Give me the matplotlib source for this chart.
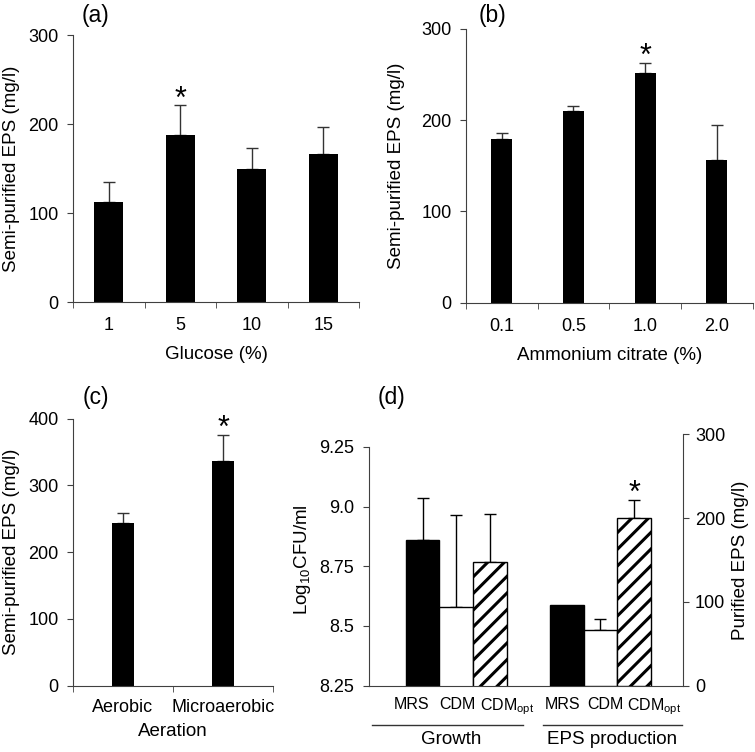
import numpy as np
import matplotlib
matplotlib.use('Agg')
import matplotlib.pyplot as plt
from matplotlib.transforms import blended_transform_factory

plt.rcParams['font.family'] = ['Liberation Sans', 'DejaVu Sans']
plt.rcParams['mathtext.fontset'] = 'custom'
plt.rcParams['mathtext.rm'] = 'Liberation Sans'
plt.rcParams['mathtext.it'] = 'Liberation Sans:italic'
plt.rcParams['hatch.linewidth'] = 2.2

# (a) glucose
glucose = ['1', '5', '10', '15']
glucose_eps = [112, 188, 150, 166]
glucose_sd = [23, 33, 23, 31]

# (b) ammonium citrate
citrate = ['0.1', '0.5', '1.0', '2.0']
citrate_eps = [179, 210, 252, 156]
citrate_sd = [7, 6, 11, 39]

# (c) aeration
aeration = ['Aerobic', 'Microaerobic']
aeration_eps = [244, 337]
aeration_sd = [15, 39]

# (d) media
media = ['MRS', 'CDM', 'CDM$_{\\mathregular{opt}}$']
growth_log = [8.86, 8.58, 8.77]
growth_sd = [0.175, 0.385, 0.20]
eps_purified = [96, 67, 200]
eps_sd = [0, 13, 22]

AX = '#404040'
TICK = 13
LAB = 13.5
STAR = 22
STAR_OFF = 4

fig = plt.figure(figsize=(7.55, 7.52), dpi=100)


def simple_panel(rect, cats, vals, sds, width, ymax, ystep, xlabel, star,
                 ylab_x, xlab_y, xpad):
    ax = fig.add_axes(rect)
    x = np.arange(len(cats))
    ax.bar(x, vals, width, color='black', zorder=2)
    ax.errorbar(x, vals, yerr=[np.zeros(len(vals)), sds], fmt='none',
                ecolor='#333333', elinewidth=1, capsize=4, capthick=1, zorder=1)
    top = vals[star] + sds[star]
    ax.annotate('*', (x[star], top), xytext=(0, STAR_OFF),
                textcoords='offset points', ha='center', va='center',
                fontsize=STAR)
    ax.set_xlim(-0.5, len(cats) - 0.5)
    ax.set_ylim(0, ymax)
    ax.set_yticks(np.arange(0, ymax + 1, ystep))
    ax.set_xticks(x)
    ax.set_xticklabels(cats)
    ax.set_xticks(np.arange(len(cats) + 1) - 0.5, minor=True)
    ax.tick_params(axis='x', which='major', length=0, pad=xpad, labelsize=TICK)
    ax.tick_params(axis='x', which='minor', length=4.5, color=AX, direction='out')
    ax.tick_params(axis='y', length=4.5, color=AX, pad=6, labelsize=TICK)
    for s in ['top', 'right']:
        ax.spines[s].set_visible(False)
    for s in ['left', 'bottom']:
        ax.spines[s].set_color(AX)
    ax.set_ylabel('Semi-purified EPS (mg/l)', fontsize=LAB)
    ax.yaxis.set_label_coords(ylab_x, 0.5)
    ax.set_xlabel(xlabel, fontsize=LAB)
    ax.xaxis.set_label_coords(0.5, xlab_y)
    return ax


simple_panel([0.0967, 0.5984, 0.3788, 0.355], glucose, glucose_eps, glucose_sd,
             0.4, 300, 100, 'Glucose (%)', 1, -0.185, -0.165, 11)
simple_panel([0.6172, 0.5975, 0.3797, 0.364], citrate, citrate_eps, citrate_sd,
             0.29, 300, 100, 'Ammonium citrate (%)', 2, -0.213, -0.162, 11)
simple_panel([0.0967, 0.0882, 0.2649, 0.355], aeration, aeration_eps, aeration_sd,
             0.22, 400, 100, 'Aeration', 1, -0.265, -0.138, 9.5)

# (d) growth (left axis) and purified EPS (right axis)
ax = fig.add_axes([0.4887, 0.0882, 0.4163, 0.3343])
ax2 = ax.twinx()
xg = np.arange(3)
xe = np.arange(3) + 4.28
styles = [dict(color='black', edgecolor='black'),
          dict(color='white', edgecolor='black'),
          dict(color='white', edgecolor='black', hatch='//')]
for i, st in enumerate(styles):
    ax.bar(xg[i], growth_log[i], 1.0, linewidth=1, zorder=2, **st)
    ax2.bar(xe[i], eps_purified[i], 1.0, linewidth=1, zorder=2, **st)
ax.errorbar(xg, growth_log, yerr=[np.zeros(3), growth_sd], fmt='none',
            ecolor='black', elinewidth=1, capsize=4, capthick=1, zorder=1)
ax2.errorbar(xe[1:], eps_purified[1:], yerr=[np.zeros(2), eps_sd[1:]],
             fmt='none', ecolor='black', elinewidth=1, capsize=4, capthick=1,
             zorder=1)
ax2.annotate('*', (xe[2], eps_purified[2] + eps_sd[2]), xytext=(0, STAR_OFF),
             textcoords='offset points', ha='center', va='center',
             fontsize=STAR)

ax.set_xlim(-1.59, 7.74)
ax.set_ylim(8.25, 9.303)
ax.set_yticks([8.25, 8.5, 8.75, 9.0, 9.25])
ax.set_yticklabels(['8.25', '8.5', '8.75', '9.0', '9.25'])
ax.spines['left'].set_bounds(8.25, 9.25)
ax2.set_ylim(0, 300)
ax2.set_yticks([0, 100, 200, 300])
# labels spread a little wider than the bars, as in the original layout
spread_g = np.array([-0.34, 0.03, 0.52])
spread_e = np.array([-0.12, 0.14, 0.59])
ax.set_xticks(np.concatenate([xg + spread_g, xe + spread_e]))
ax.set_xticklabels(media * 2)
ax.tick_params(axis='x', length=0, pad=8, labelsize=11.5)
ax.tick_params(axis='y', length=4.5, color=AX, pad=6, labelsize=TICK)
ax2.tick_params(axis='y', length=4.5, color=AX, pad=4, labelsize=TICK)
for a in (ax, ax2):
    a.spines['top'].set_visible(False)
ax.spines['right'].set_visible(False)
ax2.spines['left'].set_visible(False)
ax2.spines['bottom'].set_visible(False)
for s in ['left', 'bottom']:
    ax.spines[s].set_color(AX)
ax2.spines['right'].set_color(AX)
ax.set_ylabel('Log$_{\\mathregular{10}}$CFU/ml', fontsize=LAB)
ax.yaxis.set_label_coords(-0.178, 0.5)
ax2.set_ylabel('Purified EPS (mg/l)', fontsize=LAB)
ax2.yaxis.set_label_coords(1.154, 0.5)

# group brackets under the x labels
tr = blended_transform_factory(ax.transData, ax.transAxes)
for lo, hi in [(xg[0] - 1.5, xg[-1] + 0.97), (xe[0] - 0.71, xe[-1] + 1.41)]:
    ax.plot([lo, hi], [-0.156, -0.156], transform=tr, clip_on=False,
            color='#333333', lw=1)
ax.text(0.85, -0.213, 'Growth', transform=tr, ha='center', va='center',
        fontsize=LAB)
ax.text(5.62, -0.213, 'EPS production', transform=tr, ha='center',
        va='center', fontsize=LAB)

# panel tags
for tx, ty, tag in [(0.127, 0.979, '(a)'), (0.652, 0.980, '(b)'),
                    (0.127, 0.472, '(c)'), (0.518, 0.472, '(d)')]:
    fig.text(tx, ty, tag, ha='center', va='center', fontsize=16.5)

fig.savefig('out.png', dpi=100)
